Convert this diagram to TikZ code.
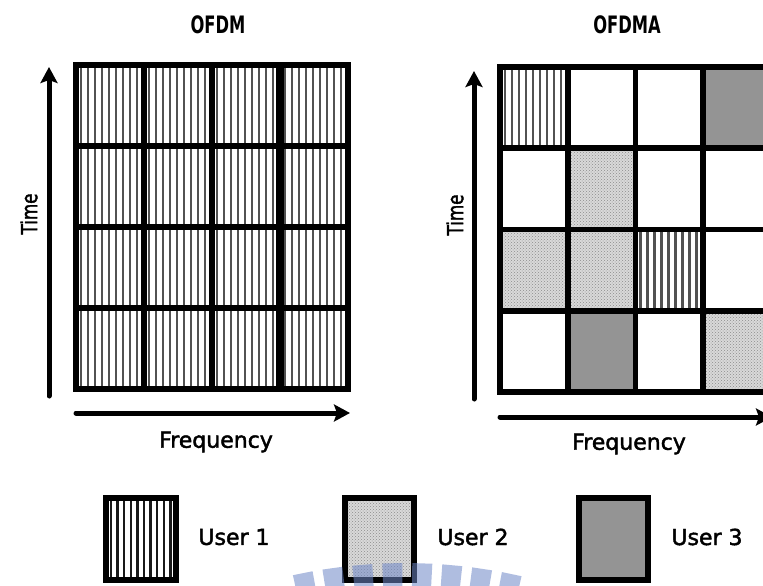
\documentclass[tikz,border=0pt]{standalone}
\usepackage{fontspec}
\setmainfont{DejaVu Sans}[FakeBold=2]
\newfontfamily\headfont[FakeStretch=0.68]{DejaVu Sans}
\usetikzlibrary{arrows.meta,patterns}

\definecolor{stripecol}{gray}{0.32}
\definecolor{legstripe}{gray}{0.10}
\definecolor{dotfill}{gray}{0.85}
\definecolor{dotcol}{gray}{0.55}
\definecolor{usergray}{gray}{0.58}
\definecolor{markblue}{RGB}{110,135,200}

\tikzset{
  % user 1: vertical stripes
  u1/.style={fill=white, path picture={
      \foreach \k in {0,...,11}{
        \draw[stripecol, line width=2.6pt]
          ([xshift=5pt+7pt*\k]path picture bounding box.north west) --
          ([xshift=5pt+7pt*\k]path picture bounding box.south west);}}},
  u1leg/.style={fill=white, path picture={
      \foreach \k in {0,...,11}{
        \draw[legstripe, line width=2.4pt]
          ([xshift=5pt+6.6pt*\k]path picture bounding box.north west) --
          ([xshift=5pt+6.6pt*\k]path picture bounding box.south west);}}},
  % user 2: dotted light grey
  u2/.style={fill=dotfill, postaction={pattern=crosshatch dots, pattern color=dotcol}},
  % user 3: plain grey
  u3/.style={fill=usergray},
  gridline/.style={line width=5.6pt, line cap=rect},
  legframe/.style={line width=5.4pt},
  axis/.style={line width=5pt, line cap=round,
    -{Stealth[length=16pt, width=17pt, inset=3pt]}},
  title/.style={font=\headfont\bfseries\fontsize{24}{26}\selectfont},
  lbl/.style={font=\fontsize{22}{24}\selectfont}
}

\begin{document}
\begin{tikzpicture}[x=1pt, y=-1pt]
\useasboundingbox (0,0) rectangle (763,586);
\clip (0,0) rectangle (763,586);
\fill[white] (0,0) rectangle (763,586);

% ---------- titles ----------
\node[title] (ofdm)  at (218,25) {OFDM};
\node[title] (ofdma) at (627,25) {OFDMA};

% ---------- OFDM grid: every cell carries user 1 ----------
\foreach \c in {0,...,3}{
  \foreach \r in {0,...,3}{
    \path[u1] (76+68*\c,65+81*\r) rectangle (76+68*\c+68,65+81*\r+81);
  }
}
\draw[gridline] (76,65) rectangle (348,389);
\foreach \x in {144,212} \draw[gridline] (\x,65) -- (\x,389);
\draw[line width=8pt] (280,65) -- (280,389);
\foreach \y in {146,227,308} \draw[gridline] (76,\y) -- (348,\y);

% ---------- OFDMA grid ----------
\def\cw{67.75}
\def\rh{81.25}
% row 1
\path[u1] (500,67) rectangle (500+\cw,67+\rh);
\path[u3] (500+3*\cw,67) rectangle (500+4*\cw,67+\rh);
% row 2
\path[u2] (500+\cw,67+\rh) rectangle (500+2*\cw,67+2*\rh);
% row 3
\path[u2] (500,67+2*\rh) rectangle (500+\cw,67+3*\rh);
\path[u2] (500+\cw,67+2*\rh) rectangle (500+2*\cw,67+3*\rh);
\path[u1] (500+2*\cw,67+2*\rh) rectangle (500+3*\cw,67+3*\rh);
% row 4
\path[u3] (500+\cw,67+3*\rh) rectangle (500+2*\cw,67+4*\rh);
\path[u2] (500+3*\cw,67+3*\rh) rectangle (500+4*\cw,67+4*\rh);

\draw[gridline] (500,67) rectangle (500+4*\cw,67+4*\rh);
\foreach \i in {1,2,3} \draw[gridline] (500+\i*\cw,67) -- (500+\i*\cw,67+4*\rh);
\foreach \i in {1,2,3} \draw[gridline] (500,67+\i*\rh) -- (500+4*\cw,67+\i*\rh);

% ---------- axes ----------
\coordinate (t1s) at (49,396);   \coordinate (t1e) at (49,67);
\coordinate (f1s) at (76,413);   \coordinate (f1e) at (350,413);
\coordinate (t2s) at (474,399);  \coordinate (t2e) at (474,71);
\coordinate (f2s) at (500,417);  \coordinate (f2e) at (772,417);
\draw[axis] (t1s) -- (t1e);
\draw[axis] (f1s) -- (f1e);
\draw[axis] (t2s) -- (t2e);
\draw[axis] (f2s) -- (f2e);

\node[lbl, rotate=90] (time1) at (29,214) {\scalebox{0.76}[1]{Time}};
\node[lbl, rotate=90] (time2) at (455,215) {\scalebox{0.76}[1]{Time}};
\node[lbl] (freq1) at (216,442) {Frequency};
\node[lbl] (freq2) at (629,444) {Frequency};

% ---------- legend ----------
\path[u1leg] (106,498) rectangle (176,580);
\draw[legframe] (106,498) rectangle (176,580);
\path[u2] (345,498) rectangle (414,580);
\draw[legframe] (345,498) rectangle (414,580);
\path[u3] (579,498) rectangle (648,580);
\draw[legframe] (579,498) rectangle (648,580);

\node[lbl] (user1) at (234,537) {User 1};
\node[lbl] (user2) at (473,537) {User 2};
\node[lbl] (user3) at (707,537) {User 3};

% ---------- faint emblem along the lower edge ----------
\begin{scope}[shift={(405,1085)}]
  \foreach \k in {0,...,7}{
    \pgfmathsetmacro\a{-101.3+3.3*\k}
    \fill[markblue, opacity=0.55]
      (\a-1.1:455) -- (\a-1.1:522) -- (\a+1.1:522) -- (\a+1.1:455) -- cycle;
  }
\end{scope}
\end{tikzpicture}
\end{document}
